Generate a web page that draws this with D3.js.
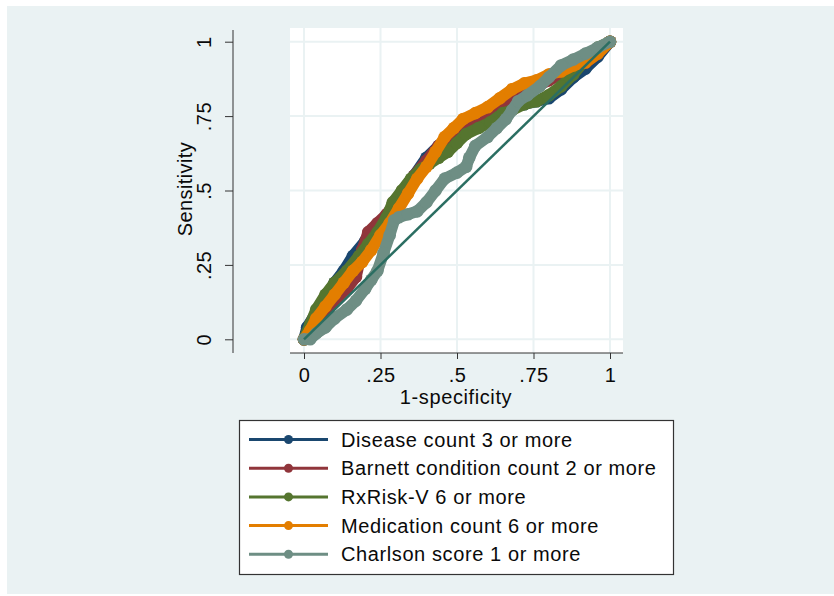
<!DOCTYPE html>
<html>
<head>
<meta charset="utf-8">
<script src="https://cdn.jsdelivr.net/npm/d3@7"></script>
<style>
  body { margin: 0; background: #fff; }
  svg text { font-family: "Liberation Sans", Arial, sans-serif; fill: #0a0a0a; }
</style>
</head>
<body>
<svg id="chart" width="834" height="596"></svg>
<script>
// ROC curves, points as [1-specificity, sensitivity]
const disease = [[0,0],[0.01,0.04],[0.04,0.09],[0.07,0.14],[0.1,0.19],[0.13,0.23],[0.16,0.28],[0.2,0.33],[0.24,0.38],[0.28,0.43],[0.32,0.49],[0.36,0.55],[0.4,0.61],[0.44,0.65],[0.48,0.68],[0.52,0.71],[0.56,0.73],[0.6,0.75],[0.64,0.77],[0.68,0.78],[0.72,0.79],[0.76,0.8],[0.8,0.81],[0.84,0.84],[0.88,0.88],[0.92,0.91],[0.96,0.95],[1,1]];
const barnett = [[0,0],[0.02,0.03],[0.05,0.07],[0.08,0.1],[0.11,0.14],[0.14,0.17],[0.17,0.21],[0.19,0.3],[0.21,0.36],[0.24,0.39],[0.27,0.42],[0.3,0.46],[0.33,0.5],[0.36,0.55],[0.4,0.6],[0.44,0.65],[0.48,0.69],[0.52,0.72],[0.56,0.74],[0.6,0.76],[0.64,0.79],[0.68,0.81],[0.72,0.83],[0.76,0.85],[0.8,0.87],[0.84,0.89],[0.88,0.91],[0.92,0.93],[0.96,0.96],[1,1]];
const rxrisk = [[0,0],[0.02,0.05],[0.04,0.1],[0.07,0.15],[0.1,0.19],[0.14,0.23],[0.18,0.28],[0.21,0.32],[0.24,0.36],[0.27,0.41],[0.29,0.46],[0.32,0.5],[0.35,0.54],[0.38,0.57],[0.41,0.59],[0.44,0.61],[0.47,0.63],[0.5,0.66],[0.53,0.69],[0.57,0.71],[0.61,0.73],[0.65,0.76],[0.68,0.77],[0.72,0.79],[0.76,0.8],[0.8,0.82],[0.84,0.85],[0.88,0.89],[0.92,0.94],[0.96,0.98],[1,1]];
const medication = [[0,0],[0.02,0.03],[0.04,0.07],[0.07,0.11],[0.1,0.15],[0.13,0.19],[0.16,0.23],[0.19,0.26],[0.22,0.3],[0.25,0.35],[0.28,0.39],[0.31,0.44],[0.34,0.49],[0.37,0.54],[0.4,0.58],[0.43,0.63],[0.46,0.68],[0.49,0.71],[0.52,0.74],[0.56,0.76],[0.6,0.78],[0.64,0.81],[0.68,0.84],[0.72,0.86],[0.76,0.87],[0.8,0.89],[0.84,0.9],[0.88,0.92],[0.92,0.93],[0.96,0.96],[1,1]];
const charlson = [[0,0],[0.02,0.0],[0.04,0.02],[0.07,0.04],[0.1,0.07],[0.14,0.1],[0.17,0.13],[0.2,0.17],[0.22,0.2],[0.24,0.23],[0.26,0.29],[0.28,0.35],[0.295,0.4],[0.31,0.41],[0.34,0.42],[0.37,0.43],[0.4,0.46],[0.43,0.5],[0.46,0.54],[0.5,0.56],[0.53,0.58],[0.54,0.61],[0.56,0.65],[0.6,0.68],[0.63,0.71],[0.66,0.74],[0.68,0.77],[0.7,0.8],[0.73,0.82],[0.77,0.85],[0.8,0.88],[0.84,0.92],[0.88,0.94],[0.92,0.96],[0.96,0.98],[1,1]];

const seriesNames = ["Disease count 3 or more", "Barnett condition count 2 or more", "RxRisk-V 6 or more", "Medication count 6 or more", "Charlson score 1 or more"];
const seriesColors = ["#1a476f", "#90353b", "#55752f", "#e37e00", "#6e8e84"];
const series = [disease, barnett, rxrisk, medication, charlson];

const ticks = [0, 0.25, 0.5, 0.75, 1];
const tickLabels = ["0", ".25", ".5", ".75", "1"];

const svg = d3.select('#chart');
const x = d3.scaleLinear().domain([0, 1]).range([304, 610]);
const y = d3.scaleLinear().domain([0, 1]).range([339.3, 41.7]);

// backgrounds
svg.append('rect').attr('x', 7).attr('y', 6).attr('width', 827).attr('height', 588).attr('fill', '#eaf2f3');
svg.append('rect').attr('x', 290).attr('y', 28).attr('width', 333).attr('height', 325).attr('fill', '#fff');

// grid
const grid = svg.append('g').attr('stroke', '#eaf2f3').attr('stroke-width', 2);
grid.selectAll('.vg').data(ticks).enter().append('line')
  .attr('x1', d => x(d)).attr('x2', d => x(d)).attr('y1', 28).attr('y2', 353);
grid.selectAll('.hg').data(ticks).enter().append('line')
  .attr('x1', 290).attr('x2', 623).attr('y1', d => y(d)).attr('y2', d => y(d));

// curves: thick lines with markers, as the markers overlap into bands
const line = d3.line().x(d => x(d[0])).y(d => y(d[1]));
series.forEach((s, i) => {
  svg.append('path').datum(s).attr('d', line)
    .attr('fill', 'none').attr('stroke', seriesColors[i])
    .attr('stroke-width', 11.5).attr('stroke-linejoin', 'round').attr('stroke-linecap', 'round');
  svg.append('g').selectAll('circle').data(s).enter().append('circle')
    .attr('cx', d => x(d[0])).attr('cy', d => y(d[1])).attr('r', 6.3)
    .attr('fill', seriesColors[i]);
});

// reference line
svg.append('path').datum([[0, 0], [1, 1]]).attr('d', line)
  .attr('stroke', '#2b6e62').attr('stroke-width', 2.5).attr('fill', 'none');

const fs = '20px';

// x axis
const xAxis = svg.append('g').attr('transform', 'translate(0,353)')
  .call(d3.axisBottom(x).tickValues(ticks).tickFormat((d, i) => tickLabels[i]).tickSize(6).tickSizeOuter(0).tickPadding(9));
xAxis.select('.domain').attr('d', 'M290,0H623').attr('stroke', '#333');
xAxis.selectAll('.tick line').attr('stroke', '#333');
xAxis.selectAll('text').style('font-size', fs).style('letter-spacing', '0.5px').attr('fill', '#0a0a0a');

// y axis
const yAxis = svg.append('g').attr('transform', 'translate(233,0)')
  .call(d3.axisLeft(y).tickValues(ticks).tickFormat((d, i) => tickLabels[i]).tickSize(8).tickSizeOuter(0));
yAxis.select('.domain').attr('d', 'M0,30V353').attr('stroke', '#333');
yAxis.selectAll('.tick line').attr('stroke', '#333');
yAxis.selectAll('text')
  .attr('x', null).attr('dy', null)
  .attr('text-anchor', 'middle')
  .attr('transform', 'translate(-22,0) rotate(-90)')
  .style('font-size', fs).style('letter-spacing', '0.5px').attr('fill', '#0a0a0a');

// axis titles
svg.append('text').attr('x', 456).attr('y', 404).attr('text-anchor', 'middle')
  .style('font-size', fs).style('letter-spacing', '0.6px').text('1-specificity');
svg.append('text').attr('transform', 'translate(191.5,189) rotate(-90)').attr('text-anchor', 'middle')
  .style('font-size', fs).style('letter-spacing', '0.4px').text('Sensitivity');

// legend
const legend = svg.append('g');
legend.append('rect').attr('x', 239.5).attr('y', 420.5).attr('width', 434).attr('height', 154)
  .attr('fill', '#fff').attr('stroke', '#333').attr('stroke-width', 1.2);
const rows = legend.selectAll('.legend-element').data(seriesNames).enter().append('g')
  .attr('class', 'legend-element')
  .attr('transform', (d, i) => `translate(0,${446.5 + i * 28.7})`);
rows.append('line').attr('x1', 249).attr('x2', 328).attr('y1', -7).attr('y2', -7)
  .attr('stroke', (d, i) => seriesColors[i]).attr('stroke-width', 3);
rows.append('circle').attr('cx', 288.5).attr('cy', -7).attr('r', 4.5)
  .attr('fill', (d, i) => seriesColors[i]);
rows.append('text').attr('x', 341).attr('y', 0)
  .style('font-size', fs).style('letter-spacing', '0.6px').text(d => d);
</script>
</body>
</html>
